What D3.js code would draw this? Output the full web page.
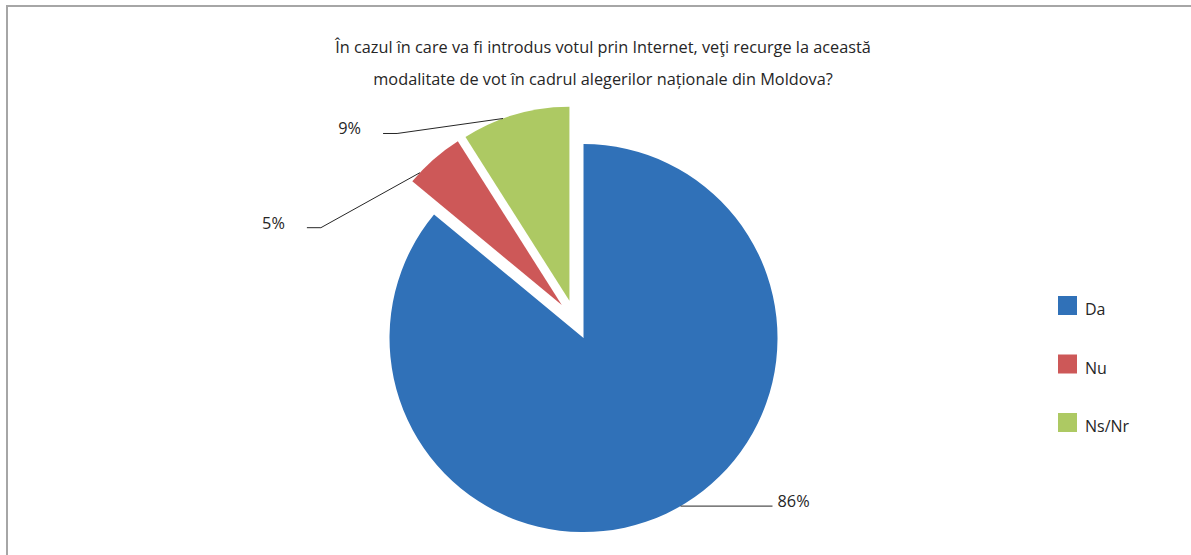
<!DOCTYPE html>
<html>
<head>
<meta charset="utf-8">
<script src="https://cdn.jsdelivr.net/npm/d3@7"></script>
<style>
html,body{margin:0;padding:0;background:#fff;}
svg{display:block;}
text{font-family:"Open Sans","Noto Sans",sans-serif;fill:#262626;}
</style>
</head>
<body>
<svg id="chart" width="1191" height="555"></svg>
<script>
const categories = ["Da", "Nu", "Ns/Nr"];
const values = [86, 5, 9];
const valueLabels = ["86%", "5%", "9%"];
const colors = ["#3071B8", "#CD5858", "#ADC963"];
const titleLines = [
  "În cazul în care va fi introdus votul prin Internet, veţi recurge la această",
  "modalitate de vot în cadrul alegerilor naționale din Moldova?"
];

// layout (not data)
const W = 1191, H = 555;
const cx = 575, cy = 320, R = 194, explode = 20;
// leader line layout per slice: anchor angle (deg), elbow offset, horizontal length, side, label gap
const leaders = [
  {angle: 150, elbow: [0, 0], horiz: 92, side: 1, gap: 5},
  {angle: 313, elbow: [-99, 55], horiz: 14, side: -1, gap: 22},
  {angle: 340, elbow: [-106, 15], horiz: 14, side: -1, gap: 22}
];

const svg = d3.select("#chart");

// border
svg.append("path")
  .attr("d", `M7,${H} L7,6 L${W},6`)
  .attr("fill", "none").attr("stroke", "#A6A6A6").attr("stroke-width", 2);

// title
svg.append("g").selectAll("text").data(titleLines).join("text")
  .attr("x", 603).attr("y", (d, i) => 53 + i * 32)
  .attr("text-anchor", "middle").attr("font-size", 16.3).text(d => d);

const pie = d3.pie().sort(null).startAngle(0).endAngle(2 * Math.PI).value(d => d);
const arcs = pie(values);
const arc = d3.arc().innerRadius(0).outerRadius(R);

const g = svg.append("g").attr("transform", `translate(${cx},${cy})`);

arcs.forEach((a, i) => {
  const mid = (a.startAngle + a.endAngle) / 2;
  const ox = explode * Math.sin(mid), oy = -explode * Math.cos(mid);
  const sg = g.append("g").attr("transform", `translate(${ox},${oy})`);
  sg.append("path").attr("d", arc(a)).attr("fill", colors[i]);

  const L = leaders[i];
  const ang = L.angle * Math.PI / 180;
  const ax = R * Math.sin(ang), ay = -R * Math.cos(ang);
  const ex = ax + L.elbow[0], ey = ay + L.elbow[1];
  const hx = ex + L.side * L.horiz;
  sg.append("path")
    .attr("d", `M${ax},${ay} L${ex},${ey} L${hx},${ey}`)
    .attr("fill", "none").attr("stroke", "#262626").attr("stroke-width", 1);
  sg.append("text")
    .attr("x", hx + L.side * L.gap).attr("y", ey + 1)
    .attr("text-anchor", L.side > 0 ? "start" : "end")
    .attr("font-size", 16.3).text(valueLabels[i]);
});

// legend
const leg = svg.append("g").attr("transform", "translate(1058,296)");
const items = leg.selectAll("g").data(categories).join("g")
  .attr("transform", (d, i) => `translate(0,${i * 58.5})`);
items.append("rect").attr("width", 19).attr("height", 19).attr("fill", (d, i) => colors[i]);
items.append("text").attr("x", 27).attr("y", 19).attr("font-size", 16).text(d => d);
</script>
</body>
</html>
